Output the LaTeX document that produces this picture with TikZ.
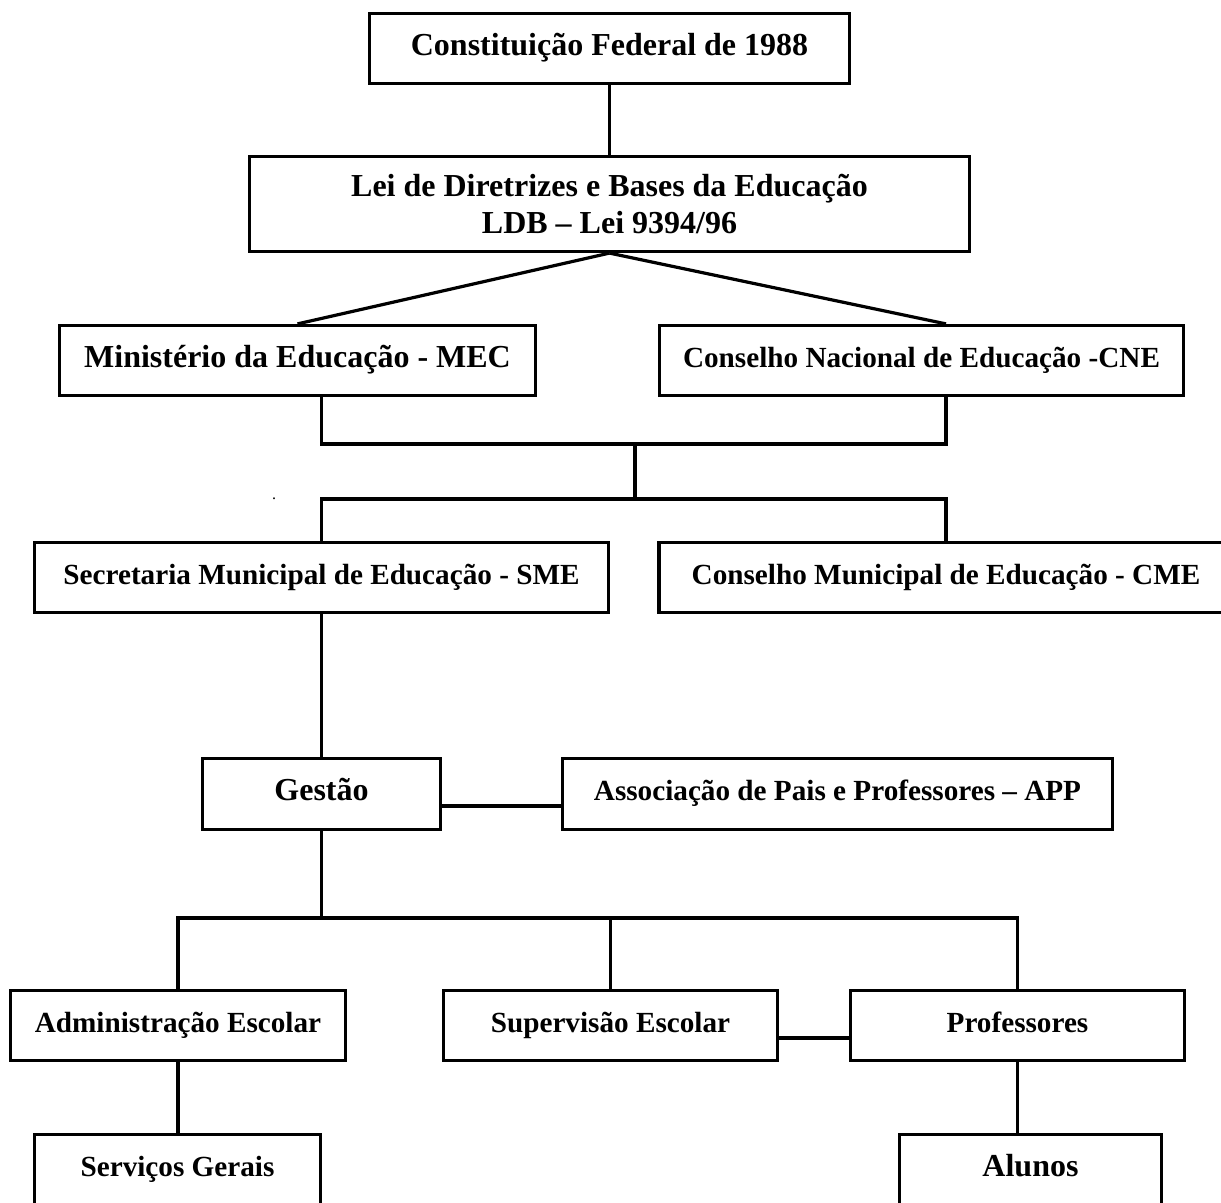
\documentclass[tikz,border=0pt]{standalone}
\usepackage{fontspec}
\setmainfont{Liberation Serif}
\usepackage{tikz}

\begin{document}
\begin{tikzpicture}[x=0.5pt,y=-0.5pt,line width=1.6pt,
  box/.style={draw,rectangle,inner sep=0pt,minimum height=35pt,align=center},
  big/.style={font=\bfseries\fontsize{16}{16.5}\selectfont,text height=10.8pt,text depth=4.2pt},
  small/.style={font=\bfseries\fontsize{14.6}{16.5}\selectfont,text height=10.8pt,text depth=4.2pt}]
  \useasboundingbox (0,0) rectangle (1221,1203);
  % boxes
  \node[box,big,minimum width=240pt] (cf) at (609.5,48.5) {Constitui\c{c}\~ao Federal de 1988};
  \node[box,font=\bfseries\fontsize{16}{18.5}\selectfont,minimum width=360pt,minimum height=47.5pt] (ldb) at (609.5,204) {Lei de Diretrizes e Bases da Educa\c{c}\~ao\\LDB -- Lei 9394/96};
  \node[box,big,minimum width=238pt] (mec) at (297.5,360.5) {Minist\'erio da Educa\c{c}\~ao - MEC};
  \node[box,small,minimum width=262pt] (cne) at (921.5,360.5) {Conselho Nacional de Educa\c{c}\~ao -CNE};
  \node[box,small,minimum width=287pt] (sme) at (321.5,577.5) {Secretaria Municipal de Educa\c{c}\~ao - SME};
  \node[box,small,minimum width=287pt] (cme) at (946,577.5) {Conselho Municipal de Educa\c{c}\~ao - CME};
  \node[box,big,minimum width=119pt,minimum height=35.5pt] (gest) at (321.5,794) {Gest\~ao};
  \node[box,small,minimum width=275pt,minimum height=35.5pt] (app) at (837.5,794) {Associa\c{c}\~ao de Pais e Professores -- APP};
  \node[box,small,minimum width=167.5pt] (adm) at (178,1025.5) {Administra\c{c}\~ao Escolar};
  \node[box,small,minimum width=167pt] (sup) at (610.5,1025.5) {Supervis\~ao Escolar};
  \node[box,small,minimum width=167pt] (prof) at (1017.5,1025.5) {Professores};
  \node[box,small,minimum width=143pt] (serv) at (177.5,1169.5) {Servi\c{c}os Gerais};
  \node[box,big,minimum width=131pt] (alun) at (1030.5,1169.5) {Alunos};
  \node[inner sep=0pt,anchor=base,font=\fontsize{8}{8}\selectfont] (dot) at (274,500) {.};
  % junctions
  \coordinate (j1) at (635,444);
  \coordinate (j2) at (635,499);
  \coordinate (j3) at (321.5,918);
  \coordinate (g1) at (442,806);
  \coordinate (s1) at (779,1038);
  % connectors
  \draw (cf.south) -- (ldb.north);
  \draw (ldb.south) -- (mec.north);
  \draw (ldb.south) -- (cme.north |- cne.north);
  \draw (mec.south -| sme.north) |- (j1) -| (cme.north |- cne.south);
  \draw (j1) -- (j2);
  \draw (sme.north) |- (j2) -| (cme.north);
  \draw (sme.south) -- (gest.north);
  \draw (g1) -- (g1 -| app.west);
  \draw (gest.south) -- (j3);
  \draw (adm.north) |- (j3) -| (prof.north);
  \draw (sup.north) -- (sup.north |- j3);
  \draw (s1) -- (s1 -| prof.west);
  \draw (adm.south) -- (adm.south |- serv.north);
  \draw (prof.south) -- (prof.south |- alun.north);
\end{tikzpicture}
\end{document}
